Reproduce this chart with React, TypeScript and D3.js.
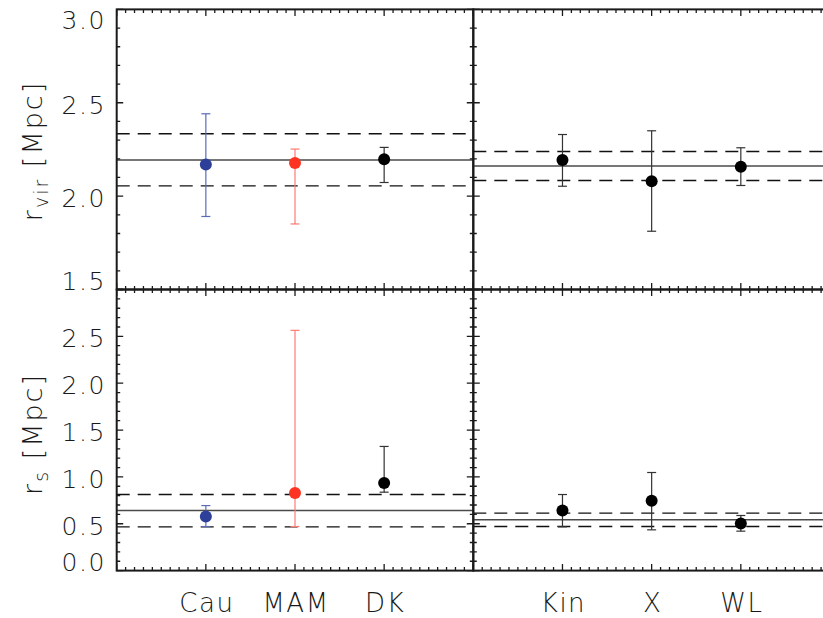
import React from "react";
import * as d3 from "d3";

// Method labels for the two columns of panels
const leftMethods = ["Cau", "MAM", "DK"];
const rightMethods = ["Kin", "X", "WL"];

// Marker / error-bar colours per method position in the left column
const leftPointColors = ["#2e3f99", "#ff3322", "#000000"];
const leftBarColors = ["#5b6bb8", "#ff7b73", "#333333"];
const rightPointColors = ["#000000", "#000000", "#000000"];
const rightBarColors = ["#333333", "#333333", "#333333"];

// Virial radius estimates [Mpc]
const rvirLeft = [2.17, 2.177, 2.198];
const rvirLeftHi = [2.441, 2.252, 2.261];
const rvirLeftLo = [1.891, 1.851, 2.073];
const rvirRight = [2.193, 2.08, 2.157];
const rvirRightHi = [2.33, 2.35, 2.259];
const rvirRightLo = [2.053, 1.812, 2.057];

// Scale radius estimates [Mpc]
const rsLeft = [0.577, 0.827, 0.934];
const rsLeftHi = [0.694, 2.564, 1.325];
const rsLeftLo = [0.47, 0.47, 0.837];
const rsRight = [0.641, 0.745, 0.502];
const rsRightHi = [0.812, 1.047, 0.588];
const rsRightLo = [0.467, 0.435, 0.421];

// Weighted mean (middle) and its band (lower, upper) for each panel
const rvirLeftBand = [2.055, 2.193, 2.334];
const rvirRightBand = [2.084, 2.162, 2.239];
const rsLeftBand = [0.467, 0.641, 0.812];
const rsRightBand = [0.47, 0.542, 0.613];

// Axis ranges and tick labels
const rvirDomain = [1.5, 3.0];
const rsDomain = [0.0, 3.0];
const rvirTickLabels = ["1.5", "2.0", "2.5", "3.0"];
const rsTickLabels = ["0.0", "0.5", "1.0", "1.5", "2.0", "2.5"];

const W = 823;
const H = 618;
const FONT = "'DejaVu Sans', 'Liberation Sans', sans-serif";
const INK = "#1a1a1a";

const colX = [
  [116.7, 473.3],
  [473.3, 830],
];
const rowY = [
  [9.4, 289.5],
  [289.5, 570.6],
];

type PanelDef = {
  col: number;
  row: number;
  methods: string[];
  vals: number[];
  hi: number[];
  lo: number[];
  band: number[];
  pointColors: string[];
  barColors: string[];
  domain: number[];
  tickLabels: string[] | null;
  showX: boolean;
};

const panels: PanelDef[] = [
  { col: 0, row: 0, methods: leftMethods, vals: rvirLeft, hi: rvirLeftHi, lo: rvirLeftLo, band: rvirLeftBand, pointColors: leftPointColors, barColors: leftBarColors, domain: rvirDomain, tickLabels: rvirTickLabels, showX: false },
  { col: 1, row: 0, methods: rightMethods, vals: rvirRight, hi: rvirRightHi, lo: rvirRightLo, band: rvirRightBand, pointColors: rightPointColors, barColors: rightBarColors, domain: rvirDomain, tickLabels: null, showX: false },
  { col: 0, row: 1, methods: leftMethods, vals: rsLeft, hi: rsLeftHi, lo: rsLeftLo, band: rsLeftBand, pointColors: leftPointColors, barColors: leftBarColors, domain: rsDomain, tickLabels: rsTickLabels, showX: true },
  { col: 1, row: 1, methods: rightMethods, vals: rsRight, hi: rsRightHi, lo: rsRightLo, band: rsRightBand, pointColors: rightPointColors, barColors: rightBarColors, domain: rsDomain, tickLabels: null, showX: true },
];

const isMultiple = (v: number, step: number) =>
  Math.abs(v / step - Math.round(v / step)) < 1e-6;

function Panel({ p }: { p: PanelDef }) {
  const [x0, x1] = colX[p.col];
  const [y0, y1] = rowY[p.row];
  const x = d3.scaleLinear().domain([0, 4]).range([x0, x1]);
  const y = d3.scaleLinear().domain(p.domain).range([y1, y0]);

  const xMinor = d3.range(0, 40.001, 1).map((d) => d / 10);
  const yMinor = d3
    .range(Math.round(p.domain[0] * 10), Math.round(p.domain[1] * 10) + 0.001, 1)
    .map((d) => d / 10);

  const majLen = 6.5;
  const minLen = 3.5;
  const lineGen = d3.line<[number, number]>();

  const ticks: string[] = [];
  xMinor.forEach((v) => {
    const len = isMultiple(v, 1) ? majLen : minLen;
    const px = x(v);
    ticks.push(lineGen([[px, y1], [px, y1 - len]]) as string);
    ticks.push(lineGen([[px, y0], [px, y0 + len]]) as string);
  });
  yMinor.forEach((v) => {
    const len = isMultiple(v, 0.5) ? majLen : minLen;
    const py = y(v);
    ticks.push(lineGen([[x0, py], [x0 + len, py]]) as string);
    ticks.push(lineGen([[x1, py], [x1 - len, py]]) as string);
  });

  const cx = (i: number) => x(i + 1);
  const capHalf = 4.5;

  return (
    <g>
      {/* mean value and its band */}
      <line x1={x0} x2={x1} y1={y(p.band[1])} y2={y(p.band[1])} stroke="#4a4a4a" strokeWidth={1.5} />
      {[p.band[0], p.band[2]].map((b, i) => (
        <line key={i} x1={x0} x2={x1} y1={y(b)} y2={y(b)} stroke="#111" strokeWidth={1.4} strokeDasharray="13,8" />
      ))}
      {/* error bars */}
      {p.vals.map((v, i) => (
        <g key={"e" + i} stroke={p.barColors[i]} strokeWidth={1.2} fill="none">
          <line x1={cx(i)} x2={cx(i)} y1={y(p.hi[i])} y2={y(p.lo[i])} />
          <line x1={cx(i) - capHalf} x2={cx(i) + capHalf} y1={y(p.hi[i])} y2={y(p.hi[i])} />
          <line x1={cx(i) - capHalf} x2={cx(i) + capHalf} y1={y(p.lo[i])} y2={y(p.lo[i])} />
        </g>
      ))}
      {/* estimates */}
      {p.vals.map((v, i) => (
        <circle key={"c" + i} cx={cx(i)} cy={y(v)} r={6} fill={p.pointColors[i]} />
      ))}
      {/* frame and ticks */}
      <path d={ticks.join("")} stroke={INK} strokeWidth={1.3} fill="none" />
      <rect x={x0} y={y0} width={x1 - x0} height={y1 - y0} fill="none" stroke={INK} strokeWidth={2} />
      {p.tickLabels &&
        p.tickLabels.map((t) => {
          const py = Math.max(y0 + 10, Math.min(y1 - 9, y(+t) + 2));
          return (
            <text key={t} x={106} y={py + 9.1} textAnchor="end" fontFamily={FONT} fontWeight={200} fontSize={25} letterSpacing={1.6} fill={INK}>
              {t}
            </text>
          );
        })}
      {p.showX &&
        p.methods.map((m, i) => (
          <text key={m} x={cx(i) + 1} y={612} textAnchor="middle" fontFamily={FONT} fontWeight={200} fontSize={26} letterSpacing={1.5} fill={INK}>
            {m}
          </text>
        ))}
    </g>
  );
}

export default function App() {
  return (
    <svg width={W} height={H} viewBox={`0 0 ${W} ${H}`} style={{ position: "absolute", left: 0, top: 0, background: "#fff" }}>
      <rect x={0} y={0} width={W} height={H} fill="#fff" />
      {panels.map((p, i) => (
        <Panel key={i} p={p} />
      ))}
      <text transform="translate(42,151) rotate(-90)" textAnchor="middle" fontFamily={FONT} fontWeight={200} fontSize={27} letterSpacing={2} fill={INK}>
        r<tspan dy={6} fontSize={19}>vir</tspan>
        <tspan dy={-6}>{"  [Mpc]"}</tspan>
      </text>
      <text transform="translate(42,434) rotate(-90)" textAnchor="middle" fontFamily={FONT} fontWeight={200} fontSize={27} letterSpacing={2} fill={INK}>
        r<tspan dy={6} fontSize={19}>s</tspan>
        <tspan dy={-6}>{"  [Mpc]"}</tspan>
      </text>
    </svg>
  );
}
